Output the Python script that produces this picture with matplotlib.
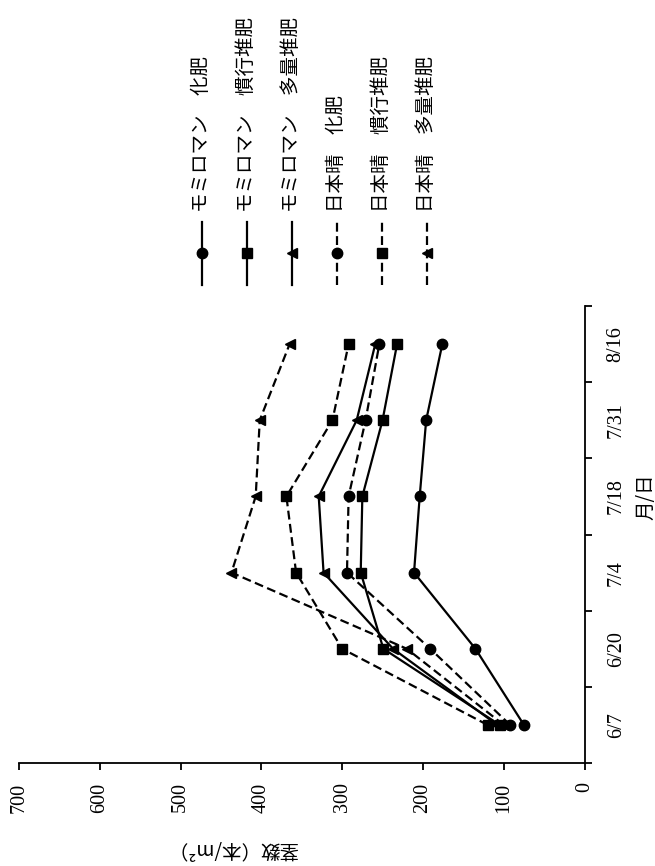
import numpy as np
import matplotlib
matplotlib.use('Agg')
import matplotlib.pyplot as plt
from matplotlib.lines import Line2D

plt.rcParams['font.family'] = ['Noto Sans CJK JP', 'DejaVu Sans']

# data (stems per m2)
dates = ['6/7', '6/20', '7/4', '7/18', '7/31', '8/16']
momi_kahi = [75, 135, 211, 204, 196, 176]
momi_kanko = [105, 249, 277, 275, 250, 232]
momi_taryo = [108, 237, 323, 329, 282, 259]
nihon_kahi = [92, 191, 294, 292, 271, 254]
nihon_kanko = [120, 300, 357, 369, 312, 292]
nihon_taryo = [100, 220, 437, 407, 402, 365]

labels = ['モミロマン　化肥', 'モミロマン　慣行堆肥', 'モミロマン　多量堆肥',
          '日本晴　化肥', '日本晴　慣行堆肥', '日本晴　多量堆肥']
series = [momi_kahi, momi_kanko, momi_taryo, nihon_kahi, nihon_kanko, nihon_taryo]
markers = ['o', 's', '<', 'o', 's', '<']
styles = ['-', '-', '-', '--', '--', '--']
msizes = [7.5, 7, 7.5, 7.5, 7, 7.5]

W, H = 655, 866
fig = plt.figure(figsize=(W / 100, H / 100), dpi=100)

def fx(px):
    return px / W

def fy(py):
    return 1 - py / H

ax = fig.add_axes([fx(19), fy(763), fx(584.5) - fx(19), fy(306) - fy(763)])

pos = np.arange(1, len(dates) + 1)
for vals, mk, ls, ms in zip(series, markers, styles, msizes):
    ax.plot(vals, pos, color='black', linestyle=ls, marker=mk, markersize=ms,
            linewidth=1.6, dashes=(4, 2) if ls == '--' else (None, None))

ax.set_xlim(700, 0)
ax.set_ylim(0.5, 6.5)
ax.spines['top'].set_visible(False)
ax.spines['left'].set_visible(False)
for s in ['bottom', 'right']:
    ax.spines[s].set_linewidth(1.3)

serif = 'Liberation Serif'
ax.set_xticks(range(0, 701, 100))
ax.set_xticklabels([str(v) for v in range(0, 701, 100)], rotation=90,
                   fontfamily=serif, fontsize=14.5, va='top', ha='center')
ax.tick_params(axis='x', direction='out', length=5, width=1.3, pad=9)

ax.yaxis.tick_right()
ax.set_yticks(np.arange(0.5, len(dates) + 1, 1))
ax.set_yticklabels([])
ax.set_yticks(pos, minor=True)
ax.set_yticklabels(dates, minor=True, rotation=90, fontfamily=serif,
                   fontsize=14.5, va='center', ha='left')
ax.tick_params(axis='y', which='major', direction='out', length=5, width=1.3)
ax.tick_params(axis='y', which='minor', length=0, pad=16)

fig.text(fx(646), fy(497), '月/日', rotation=90, fontsize=14,
         ha='center', va='center')
fig.text(fx(233), fy(849), '茎数（本/m²）', rotation=180, fontsize=14,
         ha='center', va='center')

# legend drawn by hand (rotated)
leg_x = [201.7, 246.7, 291.7, 336.7, 381.7, 426.7]
for x, lab, mk, ls, ms in zip(leg_x, labels, markers, styles, msizes):
    fig.add_artist(Line2D([fx(x), fx(x)], [fy(285), fy(222)], color='black',
                          linestyle=ls, linewidth=1.6,
                          dashes=(4, 2) if ls == '--' else (None, None)))
    fig.add_artist(Line2D([fx(x)], [fy(253)], color='black', marker=mk,
                          markersize=ms, linestyle='none'))
    fig.text(fx(x), fy(212), lab, rotation=90, fontsize=14,
             ha='center', va='bottom')

fig.savefig('out.png', dpi=100)
